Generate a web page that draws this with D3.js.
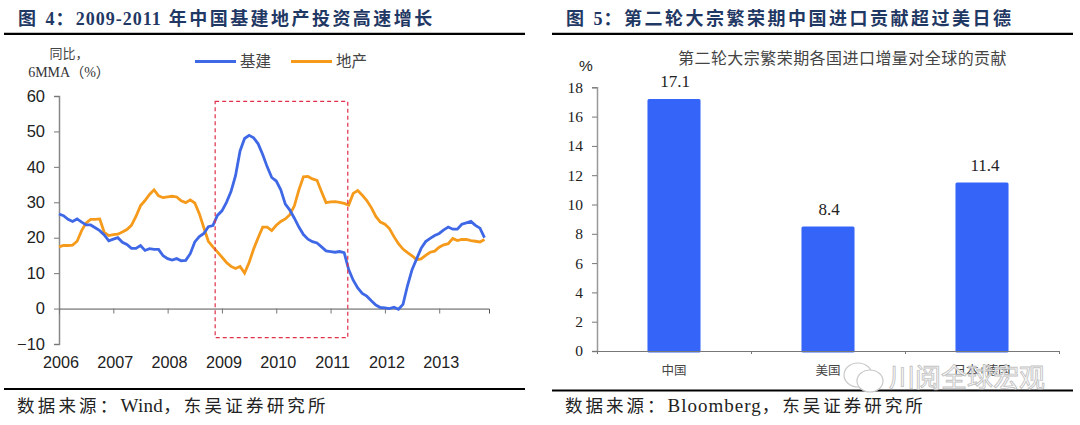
<!DOCTYPE html>
<html><head><meta charset="utf-8">
<script src="https://cdn.jsdelivr.net/npm/d3@7"></script>
<style>html,body{margin:0;padding:0;background:#fff}svg{display:block}</style></head>
<body><svg id="c" width="1080" height="425"></svg>
<script>
const yearLabels=["2006","2007","2008","2009","2010","2011","2012","2013"];
const leftTicks=[-10,0,10,20,30,40,50,60];
const infra=[26.7,26.2,25.2,24.6,25.3,24.4,23.6,23.6,22.8,22.0,20.8,19.1,19.6,20.0,18.7,18.1,17.0,17.0,17.8,16.4,16.9,16.7,16.7,14.9,14.1,13.7,14.1,13.5,13.6,15.5,18.8,20.3,21.2,23.1,23.4,26.3,27.6,30.0,33.0,37.5,44.5,48.0,48.9,48.2,46.5,43.5,40.0,37.0,36.0,33.5,29.5,27.8,25.5,23.0,20.9,19.6,18.9,18.5,17.4,16.3,16.1,15.9,16.1,15.8,11.0,8.0,5.8,4.3,3.5,2.2,1.0,0.3,0.2,0.0,0.4,-0.2,1.2,6.5,11.0,14.0,17.0,18.9,19.8,20.6,21.2,22.2,23.0,22.4,22.4,23.8,24.2,24.6,23.5,22.7,20.0];
const property=[17.4,17.8,17.8,17.9,19.0,22.0,24.2,25.2,25.2,25.3,21.5,20.6,20.9,21.0,21.6,22.3,23.5,26.0,29.0,30.5,32.2,33.5,31.8,31.3,31.5,31.7,31.5,30.4,29.9,30.7,29.8,26.8,22.8,19.0,17.4,16.0,14.5,13.0,11.9,11.3,11.9,10.0,13.0,16.8,20.0,23.0,23.0,22.0,23.5,24.6,25.3,26.5,29.0,33.5,37.2,37.3,36.6,36.2,33.0,29.9,30.1,30.2,30.0,29.7,29.2,32.5,33.3,32.0,30.5,28.5,26.0,24.4,23.8,22.6,20.3,18.3,16.8,15.8,14.9,13.8,14.0,15.0,15.9,16.2,17.3,18.0,18.3,19.8,19.2,19.5,19.5,19.2,19.0,18.8,19.5];
const highlightMonths=[34.5,63.8];
const highlightValues=[58.5,-8.2];
const seriesNames=["基建","地产"];
const barCats=["中国","美国","日本+德国"];
const barVals=[17.1,8.4,11.4];
const barTicks=[0,2,4,6,8,10,12,14,16,18];

const svg=d3.select("#c");
const SERIF='"Liberation Serif","Noto Sans CJK SC",serif';
const SANS='"Liberation Sans","Noto Sans CJK SC",sans-serif';
const CJK='"Noto Sans CJK SC",sans-serif';
const BLUE="#3F68E6",ORANGE="#F59A1B";
function text(x,y,s,o={}){const t=svg.append("text").attr("x",x).attr("y",y).text(s)
  .attr("font-family",o.f||SERIF).attr("font-size",o.s||14).attr("fill",o.c||"#222")
  .attr("text-anchor",o.a||"start");
  if(o.w)t.attr("font-weight",o.w);if(o.ls)t.attr("letter-spacing",o.ls);return t;}
// mixed text: Latin runs and CJK runs carry different tracking and size
function mixed(x,y,s,o){const t=svg.append("text").attr("x",x).attr("y",y).attr("font-family",SERIF)
  .attr("font-size",o.s).attr("fill",o.c).attr("font-weight",o.w||400);
  s.split(/([A-Za-z0-9\-]+)/).filter(r=>r).forEach(r=>{
    const latin=/^[A-Za-z0-9\-]+$/.test(r);
    t.append("tspan").text(r).attr("letter-spacing",latin?o.lsL:o.lsC).attr("font-size",latin?(o.sL||o.s):o.s);});
  return t;}
function rule(x1,x2,y){svg.append("line").attr("x1",x1).attr("x2",x2).attr("y1",y).attr("y2",y).attr("stroke","#000").attr("stroke-width",2.2);}

// headers
mixed(18,24.5,"图 4：2009-2011 年中国基建地产投资高速增长",{s:18,w:700,c:"#1F3864",lsL:1,lsC:2.45});
mixed(566,24.5,"图 5：第二轮大宗繁荣期中国进口贡献超过美日德",{s:18,w:700,c:"#1F3864",lsL:1,lsC:2.5});
rule(4,525,33.8);rule(552,1073,33.8);rule(4,525,389);rule(552,1073,390.5);
mixed(17,412,"数据来源：Wind，东吴证券研究所",{s:17.5,sL:19,c:"#222",lsL:0.3,lsC:3.2});
mixed(565,412,"数据来源：Bloomberg，东吴证券研究所",{s:17.5,sL:19,c:"#222",lsL:1,lsC:3});

// left chart
const x=d3.scaleLinear().domain([0,95]).range([59,489]);
const y=d3.scaleLinear().domain([-10,60]).range([344,96]);
const yAxis=svg.append("g").attr("transform","translate(59,0)").call(d3.axisLeft(y).tickValues(leftTicks).tickSize(5).tickPadding(9).tickFormat(d3.format("d")));
yAxis.select(".domain").attr("stroke","#888").attr("stroke-width",1.5);
yAxis.selectAll("line").attr("stroke","#777");
yAxis.selectAll("text").attr("font-family",SANS).attr("font-size",16.5).attr("fill","#222");
const xAxis=svg.append("g").attr("transform",`translate(0,${y(0)})`).call(d3.axisBottom(x).tickValues(d3.range(0,96,12)).tickSize(5).tickFormat(""));
xAxis.select(".domain").attr("stroke","#555").attr("stroke-width",1);
xAxis.selectAll("line").attr("stroke","#777");
yearLabels.forEach((l,i)=>text(x(i*12)+2,368,l,{f:SANS,s:16.2,a:"middle"}));

const line=d3.line().x((d,i)=>x(i)).y(d=>y(d));
svg.append("path").attr("d",line(property)).attr("fill","none").attr("stroke",ORANGE).attr("stroke-width",2.8);
svg.append("path").attr("d",line(infra)).attr("fill","none").attr("stroke",BLUE).attr("stroke-width",2.8);
svg.append("rect").attr("x",x(highlightMonths[0])).attr("y",y(highlightValues[0]))
  .attr("width",x(highlightMonths[1])-x(highlightMonths[0])).attr("height",y(highlightValues[1])-y(highlightValues[0]))
  .attr("fill","none").attr("stroke","#E0304A").attr("stroke-width",1.2).attr("stroke-dasharray","4 3");

text(69,58,"同比，",{f:CJK,s:13,c:"#444",a:"middle"});
text(69,77,"6MMA（%）",{s:14,c:"#333",a:"middle"});
[[195,236,BLUE,240,0],[291,332,ORANGE,336,1]].forEach(l=>{
  svg.append("line").attr("x1",l[0]).attr("x2",l[1]).attr("y1",61.5).attr("y2",61.5).attr("stroke",l[2]).attr("stroke-width",2.8);
  text(l[3],67,seriesNames[l[4]],{f:CJK,s:15.5,c:"#444"});
});

// right chart
const bx=d3.scaleBand().domain(barCats).range([597,1059]).paddingInner(0.675).paddingOuter(0.3375);
const by=d3.scaleLinear().domain([0,18]).range([351,87.3]);
const ay=svg.append("g").attr("transform","translate(597,0)").call(d3.axisLeft(by).tickValues(barTicks).tickSize(5).tickPadding(9).tickFormat(d3.format("d")));
ay.select(".domain").attr("stroke","#999").attr("stroke-width",1.5);
ay.selectAll("line").attr("stroke","#777");
ay.selectAll("text").attr("font-family",SERIF).attr("font-size",15.5).attr("fill","#222");
svg.append("g").selectAll("rect").data(barVals).join("rect")
  .attr("x",(d,i)=>bx(barCats[i])).attr("width",bx.bandwidth())
  .attr("y",d=>by(d)).attr("height",d=>by(0)-by(d))
  .attr("fill","#3565F8").attr("stroke","#3565F8").attr("stroke-width",3).attr("stroke-linejoin","round");
const ax=d3.scaleLinear().domain([0,3]).range([597,1059]);
svg.append("g").attr("transform","translate(0,351)").call(d3.axisBottom(ax).tickValues([0,1,2,3]).tickSize(3).tickFormat(""))
  .call(g=>{g.select(".domain").attr("stroke","#777");g.selectAll("line").attr("stroke","#777");});
barVals.forEach((v,i)=>{
  text(bx(barCats[i])+bx.bandwidth()/2+(i==2?3:1),by(v)-13,v.toFixed(1),{s:17,a:"middle"});
  text(bx(barCats[i])+bx.bandwidth()/2,375,barCats[i],{f:CJK,s:12.5,c:"#444",a:"middle"});
});
text(586,71,"%",{f:SANS,s:15.5,a:"middle"});
text(842.5,64,"第二轮大宗繁荣期各国进口增量对全球的贡献",{f:CJK,s:16,c:"#444",a:"middle",ls:0.45});

// watermark
const wm=svg.append("g").attr("fill","#fff").attr("stroke","#c9c9c9").attr("stroke-width",1.2);
wm.append("ellipse").attr("cx",858).attr("cy",375).attr("rx",14).attr("ry",12);
wm.append("ellipse").attr("cx",870).attr("cy",381).attr("rx",13).attr("ry",11);
text(889,387,"川阅全球宏观",{f:CJK,s:26,c:"#ffffff"}).attr("stroke","#bdbdbd").attr("stroke-width",0.9).attr("opacity",0.9);
</script></body></html>
